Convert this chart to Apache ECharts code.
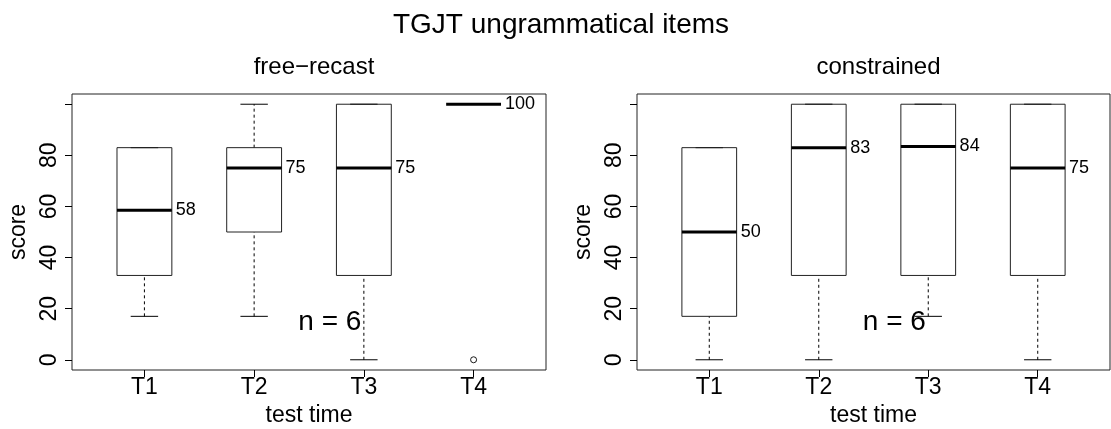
<!DOCTYPE html>
<html>
<head>
<meta charset="utf-8">
<script src="https://cdn.jsdelivr.net/npm/echarts@6/dist/echarts.min.js"></script>
<style>
html,body{margin:0;padding:0;background:#fff;}
#chart{width:1111px;height:429px;}
</style>
</head>
<body>
<div id="chart"></div>
<script>
// ---- data ----
const mainTitle = 'TGJT ungrammatical items';
const panelTitles = ['free\u2212recast', 'constrained'];
const categories = ['T1', 'T2', 'T3', 'T4'];
const yTicks = [0, 20, 40, 60, 80, 100];
const yTickLabels = [0, 20, 40, 60, 80];
const xLabel = 'test time';
const yLabel = 'score';
const nText = 'n = 6';

// free-recast
const freeMin = [17, 17, 0, 100];
const freeQ1 = [33, 50, 33, 100];
const freeMedian = [58.5, 75, 75, 100];
const freeQ3 = [83, 83, 100, 100];
const freeMax = [83, 100, 100, 100];
const freeMedianLabels = ['58', '75', '75', '100'];
const freeOutliers = [[4, 0]];

// constrained
const conMin = [0, 0, 17, 0];
const conQ1 = [17, 33, 33, 33];
const conMedian = [50, 83, 83.5, 75];
const conQ3 = [83, 100, 100, 100];
const conMax = [83, 100, 100, 100];
const conMedianLabels = ['50', '83', '84', '75'];
const conOutliers = [];

// ---- build ----
const FONT = '"Liberation Sans", Arial, Helvetica, sans-serif';
const BOX_HALF = 0.25, STAPLE_HALF = 0.125;
const nAnchor = [2.69, 14.6];

function boxRows(mn, q1, md, q3, mx) {
  return categories.map((c, i) => [i + 1, mn[i], q1[i], md[i], q3[i], mx[i]]);
}

function makeRenderer(labels) {
  return function (params, api) {
    const x = api.value(0), mn = api.value(1), q1 = api.value(2), md = api.value(3), q3 = api.value(4), mx = api.value(5);
    const P = (a, b) => api.coord([a, b]);
    const thin = { stroke: '#000', lineWidth: 1 };
    const dash = { stroke: '#000', lineWidth: 1, lineDash: [3, 3] };
    const children = [];
    const line = (p1, p2, style) => ({ type: 'line', shape: { x1: p1[0], y1: p1[1], x2: p2[0], y2: p2[1] }, style });
    if (mx > q3) children.push(line(P(x, q3), P(x, mx), dash));
    if (mn < q1) children.push(line(P(x, mn), P(x, q1), dash));
    if (!(mx === md && q3 === md)) children.push(line(P(x - STAPLE_HALF, mx), P(x + STAPLE_HALF, mx), thin));
    if (!(mn === md && q1 === md)) children.push(line(P(x - STAPLE_HALF, mn), P(x + STAPLE_HALF, mn), thin));
    const tl = P(x - BOX_HALF, q3), br = P(x + BOX_HALF, q1);
    if (q3 > q1) {
      children.push({ type: 'rect', shape: { x: tl[0], y: tl[1], width: br[0] - tl[0], height: br[1] - tl[1] },
        style: { fill: null, stroke: '#222', lineWidth: 1 } });
    }
    const m1 = P(x - BOX_HALF, md), m2 = P(x + BOX_HALF, md);
    children.push(line(m1, m2, { stroke: '#000', lineWidth: 3 }));
    children.push({ type: 'text', x: m2[0] + 4, y: m2[1],
      style: { text: labels[params.dataIndex], fill: '#000', font: '18px ' + FONT, textAlign: 'left', textVerticalAlign: 'middle' } });
    return { type: 'group', children };
  };
}

const grids = [
  { left: 72, top: 94, width: 474, height: 276 },
  { left: 637, top: 94, width: 473, height: 276 }
];

function xAxis(g) {
  return {
    type: 'value', gridIndex: g, min: 0.34, max: 4.66,
    axisLine: { show: false, onZero: false }, splitLine: { show: false },
    axisTick: { show: true, customValues: [1, 2, 3, 4], length: 7, lineStyle: { color: '#000', width: 1 } },
    axisLabel: { customValues: [1, 2, 3, 4], formatter: v => categories[Math.round(v) - 1], color: '#000', fontSize: 23, fontFamily: FONT, margin: 6 },
    name: xLabel, nameLocation: 'middle', nameGap: 32,
    nameTextStyle: { color: '#000', fontSize: 23, fontFamily: FONT }
  };
}
function yAxis(g) {
  return {
    type: 'value', gridIndex: g, min: -4, max: 104,
    axisLine: { show: false, onZero: false }, splitLine: { show: false },
    axisTick: { show: true, customValues: yTicks, length: 7, lineStyle: { color: '#000', width: 1 } },
    axisLabel: { customValues: yTickLabels, rotate: 90, color: '#000', fontSize: 23, fontFamily: FONT, margin: 11 },
    name: yLabel, nameLocation: 'middle', nameGap: 42,
    nameTextStyle: { color: '#000', fontSize: 23, fontFamily: FONT }
  };
}

const panels = [
  { rows: boxRows(freeMin, freeQ1, freeMedian, freeQ3, freeMax), labels: freeMedianLabels, outliers: freeOutliers },
  { rows: boxRows(conMin, conQ1, conMedian, conQ3, conMax), labels: conMedianLabels, outliers: conOutliers }
];

const series = [];
panels.forEach((p, g) => {
  series.push({ type: 'custom', xAxisIndex: g, yAxisIndex: g, renderItem: makeRenderer(p.labels), data: p.rows, silent: true, clip: false });
  series.push({ type: 'scatter', xAxisIndex: g, yAxisIndex: g, data: p.outliers, symbol: 'circle', symbolSize: 6,
    itemStyle: { color: 'rgba(0,0,0,0)', borderColor: '#000', borderWidth: 0.9, opacity: 1 }, silent: true });
  series.push({ type: 'scatter', xAxisIndex: g, yAxisIndex: g, data: [nAnchor], symbolSize: 0, silent: true,
    itemStyle: { opacity: 1 },
    label: { show: true, position: 'inside', formatter: nText, color: '#000', textBorderWidth: 0, fontSize: 28, fontFamily: FONT } });
});

const chart = echarts.init(document.getElementById('chart'), null, { renderer: 'canvas' });
chart.setOption({
  animation: false,
  backgroundColor: '#fff',
  title: [
    { text: mainTitle, left: 556, top: 6, textAlign: 'center', textStyle: { color: '#000', fontSize: 28, fontWeight: 'normal', fontFamily: FONT } },
    { text: panelTitles[0], left: 309, top: 50, textAlign: 'center', textStyle: { color: '#000', fontSize: 24, fontWeight: 'normal', fontFamily: FONT } },
    { text: panelTitles[1], left: 873.5, top: 50, textAlign: 'center', textStyle: { color: '#000', fontSize: 24, fontWeight: 'normal', fontFamily: FONT } }
  ],
  grid: grids.map(g => Object.assign({ show: true, borderColor: '#222', borderWidth: 1, backgroundColor: 'transparent', outerBoundsMode: 'none', containLabel: false }, g)),
  xAxis: [xAxis(0), xAxis(1)],
  yAxis: [yAxis(0), yAxis(1)],
  series
});
</script>
</body>
</html>
